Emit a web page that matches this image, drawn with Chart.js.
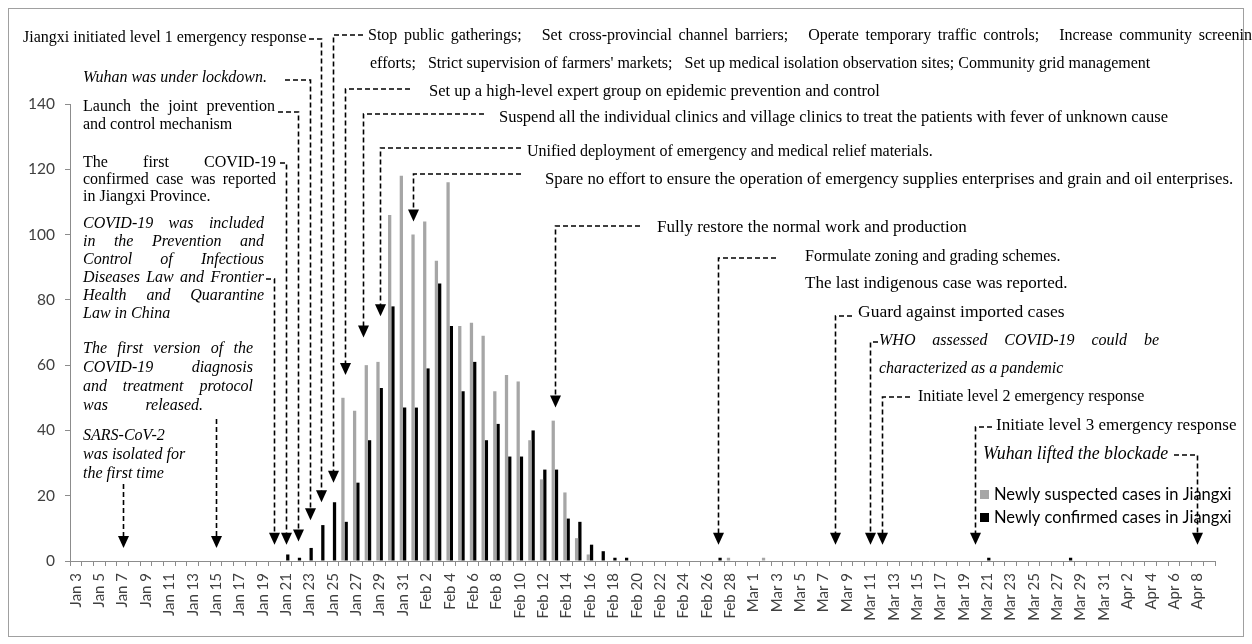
<!DOCTYPE html>
<html>
<head>
<meta charset="utf-8">
<script src="https://cdn.jsdelivr.net/npm/chart.js@4.4.1/dist/chart.umd.min.js"></script>
<style>
  html, body { margin: 0; padding: 0; background: #fff; }
</style>
</head>
<body>
<canvas id="myChart" width="1252" height="644"></canvas>
<script>
// categories: one per day, Jan 3 .. Apr 9 (2020)
const labels = [
  'Jan 3','Jan 4','Jan 5','Jan 6','Jan 7','Jan 8','Jan 9','Jan 10','Jan 11','Jan 12','Jan 13','Jan 14','Jan 15','Jan 16',
  'Jan 17','Jan 18','Jan 19','Jan 20','Jan 21','Jan 22','Jan 23','Jan 24','Jan 25','Jan 26','Jan 27','Jan 28','Jan 29',
  'Jan 30','Jan 31','Feb 1','Feb 2','Feb 3','Feb 4','Feb 5','Feb 6','Feb 7','Feb 8','Feb 9','Feb 10','Feb 11','Feb 12',
  'Feb 13','Feb 14','Feb 15','Feb 16','Feb 17','Feb 18','Feb 19','Feb 20','Feb 21','Feb 22','Feb 23','Feb 24','Feb 25',
  'Feb 26','Feb 27','Feb 28','Feb 29','Mar 1','Mar 2','Mar 3','Mar 4','Mar 5','Mar 6','Mar 7','Mar 8','Mar 9','Mar 10',
  'Mar 11','Mar 12','Mar 13','Mar 14','Mar 15','Mar 16','Mar 17','Mar 18','Mar 19','Mar 20','Mar 21','Mar 22','Mar 23',
  'Mar 24','Mar 25','Mar 26','Mar 27','Mar 28','Mar 29','Mar 30','Mar 31','Apr 1','Apr 2','Apr 3','Apr 4','Apr 5',
  'Apr 6','Apr 7','Apr 8','Apr 9'
];

// Newly suspected cases (grey)
const suspected = [
  0,0,0,0,0,0,0,0,0,0,0,0,0,0,0,0,0,0,0,0,0,0,0,      // Jan 3 - Jan 25
  50,46,60,61,106,118,                                // Jan 26 - Jan 31
  100,104,92,116,72,73,69,52,57,55,37,25,43,21,7,2,   // Feb 1 - Feb 16
  0,0,0,0,0,0,0,0,0,0,0,1,0,                          // Feb 17 - Feb 29
  0,1,0,0,0,0,0,0,0,0,0,0,0,0,0,0,0,0,0,0,0,0,0,0,0,0,0,0,0,0,0, // Mar
  0,0,0,0,0,0,0,0,0                                   // Apr 1 - Apr 9
];

// Newly confirmed cases (black)
const confirmed = [
  0,0,0,0,0,0,0,0,0,0,0,0,0,0,0,0,0,0,2,1,4,11,18,    // Jan 3 - Jan 25
  12,24,37,53,78,47,                                  // Jan 26 - Jan 31
  47,59,85,72,52,61,37,42,32,32,40,28,28,13,12,5,     // Feb 1 - Feb 16
  3,1,1,0,0,0,0,0,0,0,1,0,0,                          // Feb 17 - Feb 29
  0,0,0,0,0,0,0,0,0,0,0,0,0,0,0,0,0,0,0,0,1,0,0,0,0,0,0,1,0,0,0, // Mar
  0,0,0,0,0,0,0,0,0                                   // Apr 1 - Apr 9
];

const serif = '"Liberation Serif", "Times New Roman", serif';
const sans = 'Lato, "Open Sans", sans-serif';

// text blocks around the plot (pixel layout)
const texts = [
  { t: ['Jiangxi initiated level 1 emergency response'], x: 23, y: 38 },
  { t: ['Stop public gatherings;   Set cross-provincial channel barriers;   Operate temporary traffic controls;   Increase community screening'],
    x: 368, y: 36, w: 892 },
  { t: ["efforts;   Strict supervision of farmers' markets;   Set up medical isolation observation sites; Community grid management"], x: 370, y: 64 },
  { t: ['Wuhan was under lockdown.'], x: 83, y: 78, it: true },
  { t: ['Set up a high-level expert group on epidemic prevention and control'], x: 429, y: 92, sz: 16.5 },
  { t: ['Launch the joint prevention', 'and control mechanism'], x: 83, y: 107, lh: 18, w: 192 },
  { t: ['Suspend all the individual clinics and village clinics to treat the patients with fever of unknown cause'], x: 499, y: 118, sz: 16.5 },
  { t: ['Unified deployment of emergency and medical relief materials.'], x: 527, y: 152 },
  { t: ['The first COVID-19', 'confirmed case was reported', 'in Jiangxi Province.'], x: 83, y: 163, lh: 17, w: 193 },
  { t: ['Spare no effort to ensure the operation of emergency supplies enterprises and grain and oil enterprises.'], x: 545, y: 180, sz: 16.8 },
  { t: ['COVID-19 was included', 'in the Prevention and', 'Control of Infectious', 'Diseases Law and Frontier',
        'Health and Quarantine', 'Law in China'], x: 83, y: 224, lh: 18, w: 181, it: true },
  { t: ['Fully restore the normal work and production'], x: 657, y: 228, sz: 17 },
  { t: ['Formulate zoning and grading schemes.'], x: 805, y: 257 },
  { t: ['The last indigenous case was reported.'], x: 805, y: 284, sz: 17 },
  { t: ['Guard against imported cases'], x: 858, y: 312, sz: 17.5 },
  { t: ['WHO assessed COVID-19 could be', 'characterized as a pandemic'], x: 879, y: 341, lh: 28, w: 280, it: true },
  { t: ['The first version of the', 'COVID-19 diagnosis', 'and treatment protocol', 'was released.'],
    x: 83, y: 349, lh: 19, w: 170, lastW: 120, it: true },
  { t: ['Initiate level 2 emergency response'], x: 918, y: 397 },
  { t: ['Initiate level 3 emergency response'], x: 996, y: 426, sz: 17 },
  { t: ['SARS-CoV-2', 'was isolated for', 'the first time'], x: 83, y: 436, lh: 19, it: true },
  { t: ['Wuhan lifted the blockade'], x: 983, y: 454, it: true, sz: 17.8 }
];

// dashed arrows: date pointed at, start of the dashed leader, tip value
const notes = [
  { d: 'Jan 7', y0: 484, tip: 4 },
  { d: 'Jan 15', y0: 419, tip: 4 },
  { d: 'Jan 20', x0: 266, y0: 279, tip: 5 },
  { d: 'Jan 21', x0: 280, y0: 163, tip: 5 },
  { d: 'Jan 22', x0: 278, y0: 112, tip: 6 },
  { d: 'Jan 23', x0: 285, y0: 80, tip: 12.5 },
  { d: 'Jan 24', x0: 309, y0: 39, tip: 18 },
  { d: 'Jan 25', x0: 363, y0: 35, tip: 24 },
  { d: 'Jan 26', x0: 410, y0: 89, tip: 57 },
  { d: 'Jan 28', off: -0.45, x0: 484, y0: 114, tip: 68.5 },
  { d: 'Jan 29', x0: 521, y0: 148, tip: 75 },
  { d: 'Feb 1', off: -0.15, x0: 521, y0: 174, tip: 104 },
  { d: 'Feb 13', x0: 640, y0: 226, tip: 47 },
  { d: 'Feb 27', x0: 776, y0: 258, tip: 5 },
  { d: 'Mar 8', x0: 852, y0: 316, tip: 5 },
  { d: 'Mar 11', x0: 878, y0: 342, tip: 5 },
  { d: 'Mar 12', x0: 910, y0: 397, tip: 5 },
  { d: 'Mar 20', x0: 992, y0: 427, tip: 5 },
  { d: 'Apr 8', x0: 1174, y0: 455, tip: 5 }
];

function drawLine(ctx, words, x, y, width) {
  if (!width || words.length < 2) {
    ctx.fillText(words.join(' '), x, y);
    return;
  }
  const ws = words.map(w => ctx.measureText(w).width);
  const total = ws.reduce((a, b) => a + b, 0);
  const gap = (width - total) / (words.length - 1);
  let cx = x;
  words.forEach((w, i) => {
    if (w) ctx.fillText(w, cx, y);
    cx += ws[i] + gap;
  });
}

const notesPlugin = {
  id: 'notes',
  afterDraw(chart) {
    const ctx = chart.ctx;
    const xs = chart.scales.x, ys = chart.scales.y;
    const catW = xs.width / labels.length;
    ctx.save();

    // frame
    ctx.strokeStyle = '#a0a0a0';
    ctx.lineWidth = 1;
    ctx.strokeRect(8.5, 8.5, 1235, 628);

    // text
    ctx.fillStyle = '#000';
    ctx.textBaseline = 'middle';
    ctx.textAlign = 'left';
    texts.forEach(b => {
      ctx.font = (b.it ? 'italic ' : '') + (b.sz || 16) + 'px ' + serif;
      b.t.forEach((line, i) => {
        const last = i === b.t.length - 1 && b.t.length > 1;
        const w = last ? b.lastW : b.w;
        drawLine(ctx, line.split(' '), b.x, b.y + i * (b.lh || 0), w);
      });
    });

    // dashed arrows
    ctx.strokeStyle = '#000';
    ctx.lineWidth = 1.6;
    notes.forEach(n => {
      const idx = labels.indexOf(n.d);
      const ax = Math.round(xs.getPixelForValue(idx) + (n.off || 0) * catW) + 0.5;
      const ty = ys.getPixelForValue(n.tip);
      ctx.setLineDash([5, 3]);
      ctx.beginPath();
      if (n.x0 !== undefined) {
        ctx.moveTo(n.x0, n.y0);
        ctx.lineTo(ax, n.y0);
      } else {
        ctx.moveTo(ax, n.y0);
      }
      ctx.lineTo(ax, ty - 10);
      ctx.stroke();
      ctx.setLineDash([]);
      ctx.beginPath();
      ctx.moveTo(ax - 5.5, ty - 12);
      ctx.lineTo(ax + 5.5, ty - 12);
      ctx.lineTo(ax, ty);
      ctx.closePath();
      ctx.fill();
    });

    // legend
    ctx.font = '16.5px ' + sans;
    chart.data.datasets.forEach((ds, i) => {
      const ly = 495 + i * 23;
      ctx.fillStyle = ds.backgroundColor;
      ctx.fillRect(980, ly - 5, 9, 9);
      ctx.fillStyle = '#000';
      ctx.fillText(ds.label, 994, ly);
    });
    ctx.restore();
  }
};

const ctx = document.getElementById('myChart');

const caseChart = new Chart(ctx, {
  type: 'bar',
  data: {
    labels: labels,
    datasets: [
      { label: 'Newly suspected cases in Jiangxi', data: suspected, backgroundColor: '#a6a6a6',
        categoryPercentage: 0.56, barPercentage: 1.0 },
      { label: 'Newly confirmed cases in Jiangxi', data: confirmed, backgroundColor: '#000000',
        categoryPercentage: 0.56, barPercentage: 1.0 }
    ]
  },
  options: {
    responsive: false,
    animation: false,
    devicePixelRatio: 1,
    layout: { padding: { top: 104, right: 37, left: 0, bottom: 0 } },
    plugins: {
      legend: { display: false },
      tooltip: { enabled: false }
    },
    scales: {
      x: {
        grid: { display: true, drawOnChartArea: false, tickLength: 5, color: '#8c8c8c', offset: true },
        border: { color: '#8c8c8c' },
        ticks: {
          autoSkip: false, minRotation: 90, maxRotation: 90, padding: 7,
          color: '#404040', font: { family: sans, size: 15 },
          callback: (v, i) => (i % 2 === 0 ? labels[i] : '')
        },
        afterFit: s => { s.height = 83; }
      },
      y: {
        min: 0, max: 140,
        grid: { drawOnChartArea: false, tickLength: 5, color: '#8c8c8c' },
        border: { color: '#8c8c8c' },
        ticks: { stepSize: 20, padding: 10, color: '#404040', font: { family: sans, size: 15.5 } },
        afterFit: s => { s.width = 70; }
      }
    }
  },
  plugins: [notesPlugin]
});
</script>
</body>
</html>
